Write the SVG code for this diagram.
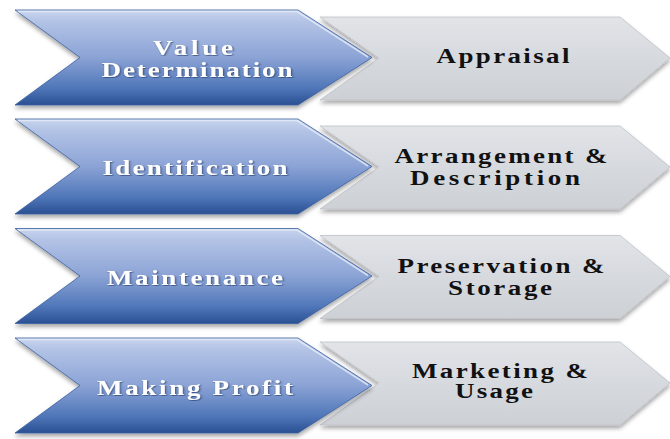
<svg xmlns="http://www.w3.org/2000/svg" width="670" height="439" viewBox="0 0 670 439">
  <defs>
    <linearGradient id="blueG" x1="0" y1="0" x2="0" y2="1">
      <stop offset="0" stop-color="#c9d5ee"/>
      <stop offset="0.12" stop-color="#b3c3e6"/>
      <stop offset="0.5" stop-color="#8ba3d5"/>
      <stop offset="0.82" stop-color="#5077b9"/>
      <stop offset="1" stop-color="#2a5093"/>
    </linearGradient>
    <linearGradient id="greyG" x1="0" y1="0" x2="0" y2="1">
      <stop offset="0" stop-color="#e2e4e8"/>
      <stop offset="0.5" stop-color="#d6d9de"/>
      <stop offset="1" stop-color="#cdd0d5"/>
    </linearGradient>
    <filter id="sh" x="-5%" y="-10%" width="110%" height="130%">
      <feDropShadow dx="0" dy="3" stdDeviation="2" flood-color="#000" flood-opacity="0.35"/>
    </filter>
    <filter id="tsh" x="-5%" y="-20%" width="110%" height="140%">
      <feDropShadow dx="0.8" dy="0.8" stdDeviation="0.6" flood-color="#1a2f5a" flood-opacity="0.7"/>
    </filter>
    <path id="blueShape" d="M15,0 L298,0 L372,47.5 L298,95 L15,95 L80,47.5 Z"/>
    <path id="greyShape" d="M320,7 L620,7 L670,48 L620,90 L320,90 L379,48 Z"/>
  </defs>
  <style>
    .blue { fill: url(#blueG); stroke: #3a5f9f; stroke-width: 0.8; filter: url(#sh); }
    .grey { fill: url(#greyG); stroke: #bfc2c8; stroke-width: 0.8; filter: url(#sh); }
    .hl { fill: none; stroke: #e6ecf8; stroke-width: 1.5; opacity: 0.8; }
    .wt { font-family: "Liberation Serif", "Times New Roman", serif; font-weight: bold; font-size: 20px; fill: #ffffff; text-anchor: middle; filter: url(#tsh); }
    .bt { font-family: "Liberation Serif", "Times New Roman", serif; font-weight: bold; font-size: 20px; fill: #111111; text-anchor: middle; }
  </style>

  <g id="row1" transform="translate(0,10)">
    <g id="appraisal">
      <use href="#greyShape" class="grey"/>
      <text class="bt" transform="translate(503,53) scale(1.35,1)" textLength="98.5" lengthAdjust="spacing">Appraisal</text>
    </g>
    <g id="value-determination">
      <use href="#blueShape" class="blue"/>
      <path class="hl" d="M18,1.5 L297,1.5 L368,47"/>
      <text class="wt" transform="translate(193,45) scale(1.35,1)" textLength="59.3" lengthAdjust="spacing">Value</text>
      <text class="wt" transform="translate(197,67) scale(1.35,1)" textLength="141.5" lengthAdjust="spacing">Determination</text>
    </g>
  </g>

  <g id="row2" transform="translate(0,119)">
    <g id="arrangement-description">
      <use href="#greyShape" class="grey"/>
      <text class="bt" transform="translate(501,44) scale(1.35,1)" textLength="157.8" lengthAdjust="spacing">Arrangement &amp;</text>
      <text class="bt" transform="translate(495,66) scale(1.35,1)" textLength="125.9" lengthAdjust="spacing">Description</text>
    </g>
    <g id="identification">
      <use href="#blueShape" class="blue"/>
      <path class="hl" d="M18,1.5 L297,1.5 L368,47"/>
      <text class="wt" transform="translate(195,56) scale(1.35,1)" textLength="137" lengthAdjust="spacing">Identification</text>
    </g>
  </g>

  <g id="row3" transform="translate(0,228.5)">
    <g id="preservation-storage">
      <use href="#greyShape" class="grey"/>
      <text class="bt" transform="translate(501,44.5) scale(1.35,1)" textLength="153.3" lengthAdjust="spacing">Preservation &amp;</text>
      <text class="bt" transform="translate(500,66) scale(1.35,1)" textLength="77" lengthAdjust="spacing">Storage</text>
    </g>
    <g id="maintenance">
      <use href="#blueShape" class="blue"/>
      <path class="hl" d="M18,1.5 L297,1.5 L368,47"/>
      <text class="wt" transform="translate(195,56.5) scale(1.35,1)" textLength="130.4" lengthAdjust="spacing">Maintenance</text>
    </g>
  </g>

  <g id="row4" transform="translate(0,338)">
    <g id="marketing-usage">
      <use href="#greyShape" class="grey" transform="translate(0,-3)"/>
      <text class="bt" transform="translate(500,40) scale(1.35,1)" textLength="130.4" lengthAdjust="spacing">Marketing &amp;</text>
      <text class="bt" transform="translate(494,60) scale(1.35,1)" textLength="57.8" lengthAdjust="spacing">Usage</text>
    </g>
    <g id="making-profit">
      <use href="#blueShape" class="blue"/>
      <path class="hl" d="M18,1.5 L297,1.5 L368,47"/>
      <text class="wt" transform="translate(195,57) scale(1.35,1)" textLength="145.2" lengthAdjust="spacing">Making Profit</text>
    </g>
  </g>

  <g id="connectors"/>
</svg>
